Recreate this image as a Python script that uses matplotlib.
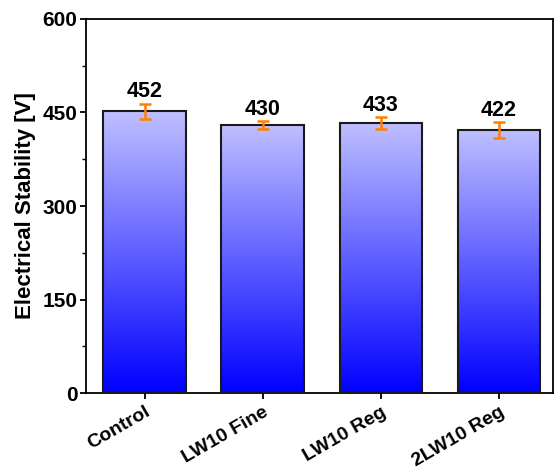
import matplotlib
matplotlib.use("Agg")
import matplotlib.pyplot as plt
import matplotlib.transforms as mtransforms
import numpy as np
from matplotlib.colors import LinearSegmentedColormap
from matplotlib.ticker import MultipleLocator

categories = ["Control", "LW10 Fine", "LW10 Reg", "2LW10 Reg"]
values = [452, 430, 433, 422]
errors = [12, 6, 9, 13]

plt.rcParams['font.family'] = ['Liberation Sans', 'DejaVu Sans']
plt.rcParams['font.weight'] = 'bold'

fig = plt.figure(figsize=(5.57, 4.72), dpi=100)
ax = fig.add_axes([0.154, 0.167, 0.839, 0.793])

x = np.arange(len(categories))
cmap = LinearSegmentedColormap.from_list("bl", [(0, 0, 1), (0.75, 0.75, 1)])
grad = np.linspace(0, 1, 256).reshape(-1, 1)

bars = ax.bar(x, values, width=0.7, facecolor='none', edgecolor='#1a1a1a', linewidth=1.5, zorder=3)
for b in bars:
    x0, w, h = b.get_x(), b.get_width(), b.get_height()
    im = ax.imshow(grad, cmap=cmap, aspect='auto', origin='lower',
                   extent=[x0, x0 + w, 0, h], zorder=2)
    im.set_clip_path(b)

ax.errorbar(x, values, yerr=errors, fmt='none', ecolor='#ff7f00', elinewidth=1.8,
            capsize=4, capthick=1.8, zorder=4)
for xi, v, e in zip(x, values, errors):
    ax.text(xi, v + e + 2, str(v), ha='center', va='bottom', fontsize=15.5, fontweight='bold')

ax.set_xlim(-0.5, 3.46)
ax.set_ylim(0, 600)
ax.yaxis.set_major_locator(MultipleLocator(150))
ax.yaxis.set_minor_locator(MultipleLocator(75))
ax.set_xticks(x)
ax.set_xticklabels(categories, rotation=30, ha='right', rotation_mode='anchor',
                   fontsize=14, fontweight='bold')
offset = mtransforms.ScaledTranslation(0.15, -0.1, fig.dpi_scale_trans)
for lbl in ax.get_xticklabels():
    lbl.set_transform(lbl.get_transform() + offset)
ax.tick_params(axis='y', labelsize=15, width=1.3, length=4, pad=2)
ax.tick_params(axis='y', which='minor', width=1.0, length=3)
ax.tick_params(axis='x', width=1.3, length=4)
ax.set_ylabel("Electrical Stability [V]", fontsize=16, fontweight='bold', labelpad=5)
for s in ax.spines.values():
    s.set_linewidth(1.3)

fig.savefig("out.png", dpi=100)
